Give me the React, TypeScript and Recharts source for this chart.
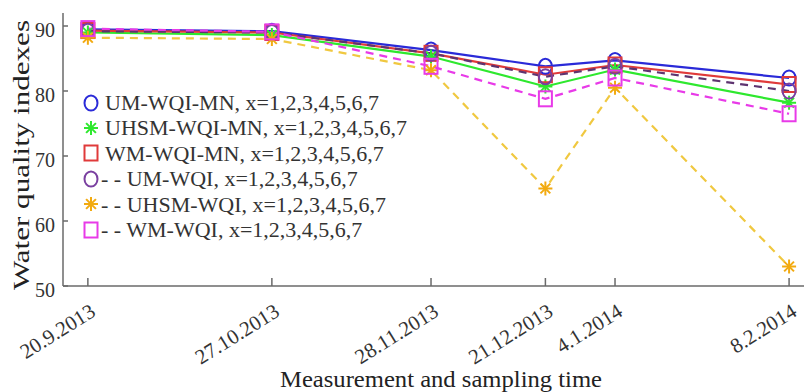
import * as React from 'react';
import { LineChart, Line, XAxis, YAxis, Legend } from 'recharts';

const dates = ['20.9.2013', '27.10.2013', '28.11.2013', '21.12.2013', '4.1.2014', '8.2.2014'];
const umMN = [89.5, 89.2, 86.3, 83.8, 84.7, 82.0];
const uhsmMN = [89.0, 88.6, 85.3, 80.7, 83.3, 78.2];
const wmMN = [89.3, 89.0, 85.8, 82.5, 84.0, 81.0];
const umWQI = [89.2, 89.0, 85.8, 82.2, 83.8, 80.0];
const uhsmWQI = [88.2, 88.0, 83.2, 65.0, 80.5, 53.0];
const wmWQI = [89.6, 89.1, 83.8, 78.8, 82.0, 76.5];
const yTicks = [50, 60, 70, 80, 90];

const toDay = (s: string) => {
    const [d, m, y] = s.split('.').map(Number);
    return Date.UTC(y, m - 1, d) / 86400000;
};
const days = dates.map((s) => toDay(s) - toDay(dates[0]));

const data = dates.map((d, i) => ({
    day: days[i],
    umMN: umMN[i],
    uhsmMN: uhsmMN[i],
    wmMN: wmMN[i],
    umWQI: umWQI[i],
    uhsmWQI: uhsmWQI[i],
    wmWQI: wmWQI[i],
}));

const FONT = '"Liberation Serif", "DejaVu Serif", serif';

type Shape = 'circle' | 'star' | 'square';

const Marker = ({ cx, cy, shape, color }: { cx: number, cy: number, shape: Shape, color: string }) => {
    if (shape === 'circle') {
        return <ellipse cx={cx} cy={cy} rx={6.5} ry={7.5} fill="none" stroke={color} strokeWidth={2} />;
    }
    if (shape === 'square') {
        return <rect x={cx - 6.5} y={cy - 7.5} width={13} height={15} fill="none" stroke={color} strokeWidth={2} />;
    }
    const r = 7;
    return (
        <g stroke={color} strokeWidth={2}>
            <line x1={cx - r} y1={cy} x2={cx + r} y2={cy} />
            <line x1={cx} y1={cy - r} x2={cx} y2={cy + r} />
            <line x1={cx - r * 0.7} y1={cy - r * 0.7} x2={cx + r * 0.7} y2={cy + r * 0.7} />
            <line x1={cx - r * 0.7} y1={cy + r * 0.7} x2={cx + r * 0.7} y2={cy - r * 0.7} />
        </g>
    );
};

const series = [
    { key: 'umMN', name: 'UM-WQI-MN, x=1,2,3,4,5,6,7', color: '#2a2ad8', marker: '#2a2ad8', shape: 'circle' as Shape, dashed: false },
    { key: 'uhsmMN', name: 'UHSM-WQI-MN, x=1,2,3,4,5,6,7', color: '#2ee82e', marker: '#2ee82e', shape: 'star' as Shape, dashed: false },
    { key: 'wmMN', name: 'WM-WQI-MN, x=1,2,3,4,5,6,7', color: '#e03a3a', marker: '#e03a3a', shape: 'square' as Shape, dashed: false },
    { key: 'umWQI', name: 'UM-WQI, x=1,2,3,4,5,6,7', color: '#5e3470', marker: '#7a40a0', shape: 'circle' as Shape, dashed: true },
    { key: 'uhsmWQI', name: 'UHSM-WQI, x=1,2,3,4,5,6,7', color: '#f0c840', marker: '#f2aa10', shape: 'star' as Shape, dashed: true },
    { key: 'wmWQI', name: 'WM-WQI, x=1,2,3,4,5,6,7', color: '#e83ae8', marker: '#e83ae8', shape: 'square' as Shape, dashed: true },
];

const XTick = (props: any) => {
    const { x, y, payload } = props;
    const label = dates[days.indexOf(payload.value)];
    return (
        <g transform={`translate(${x + 9},${y + 9})`}>
            <text x={0} y={0} textAnchor="end" transform="rotate(-32)" fontFamily={FONT} fontSize={21} fill="#333">
                {label}
            </text>
        </g>
    );
};

const YTick = (props: any) => {
    const { x, y, payload } = props;
    return (
        <text x={x} y={y + 4} textAnchor="end" dominantBaseline="central" fontFamily={FONT} fontSize={20} fill="#333">
            {payload.value}
        </text>
    );
};

const LegendBox = () => (
    <div style={{ fontFamily: FONT, fontSize: 22, color: '#333', lineHeight: '25.4px' }}>
        {series.map((s) => (
            <div key={s.key} style={{ display: 'flex', alignItems: 'center', height: 25.4, whiteSpace: 'nowrap' }}>
                <svg width={16} height={20}>
                    <Marker cx={8} cy={10} shape={s.shape} color={s.marker} />
                </svg>
                <span style={{ marginLeft: s.dashed ? 2 : 6 }}>{s.dashed ? '- - ' + s.name : s.name}</span>
            </div>
        ))}
    </div>
);

export default function App() {
    return (
        <div style={{ position: 'absolute', left: 0, top: 0, background: '#fff' }}>
            <LineChart width={804} height={392} data={data} margin={{ top: 13, right: 0, bottom: 0, left: 0 }}>
                <XAxis
                    dataKey="day"
                    type="number"
                    domain={[-5, 144]}
                    ticks={days}
                    height={106}
                    tickSize={-8}
                    tickMargin={28}
                    tick={<XTick />}
                    stroke="#6a6a6a"
                    strokeWidth={1.5}
                    label={{
                        content: () => (
                            <text x={441} y={387} textAnchor="middle" fontFamily={FONT} fontSize={23} fill="#222" textLength={322} lengthAdjust="spacingAndGlyphs">
                                Measurement and sampling time
                            </text>
                        ),
                    }}
                />
                <YAxis
                    type="number"
                    domain={[50, 92]}
                    ticks={yTicks}
                    width={63}
                    tickSize={-5}
                    tickMargin={13}
                    tick={<YTick />}
                    stroke="#6a6a6a"
                    strokeWidth={1.5}
                    allowDataOverflow
                    label={{
                        content: () => (
                            <text x={29} y={155} transform="rotate(-90 29 155)" textAnchor="middle" fontFamily={FONT} fontSize={23} fill="#222" textLength={270} lengthAdjust="spacingAndGlyphs">
                                Water quality indexes
                            </text>
                        ),
                    }}
                />
                <Legend
                    layout="horizontal"
                    align="center"
                    verticalAlign="middle"
                    content={() => <LegendBox />}
                    wrapperStyle={{ left: 83, top: 90, width: 'auto' }}
                />
                {series.map((s) => (
                    <Line
                        key={s.key}
                        dataKey={s.key}
                        name={s.name}
                        type="linear"
                        stroke={s.color}
                        strokeWidth={2.2}
                        strokeDasharray={s.dashed ? '8 6' : undefined}
                        isAnimationActive={false}
                        dot={(p: any) => <Marker key={`${s.key}-${p.index}`} cx={p.cx} cy={p.cy} shape={s.shape} color={s.marker} />}
                        activeDot={false}
                    />
                ))}
            </LineChart>
        </div>
    );
}
